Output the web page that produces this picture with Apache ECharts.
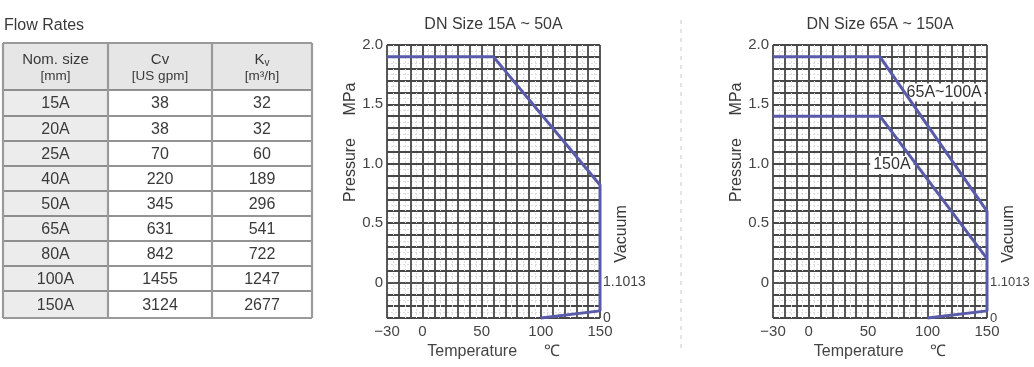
<!DOCTYPE html>
<html><head><meta charset="utf-8">
<script src="https://cdn.jsdelivr.net/npm/echarts/dist/echarts.min.js"></script>
<style>html,body{margin:0;padding:0;background:#fff}#c{width:1034px;height:367px}</style>
</head><body><div id="c"></div>
<script>
// ---------- data ----------
const tableTitle = 'Flow Rates';
const headers = [['Nom. size','[mm]'],['Cv','[US gpm]'],['Kv','[m³/h]']];
const sizes = ['15A','20A','25A','40A','50A','65A','80A','100A','150A'];
const cvValues = [38,38,70,220,345,631,842,1455,3124];
const kvValues = [32,32,60,189,296,541,722,1247,2677];

const chartTitles = ['DN Size 15A ~ 50A','DN Size 65A ~ 150A'];
const xTickLabels = {'-30':'−30','0':'0','50':'50','100':'100','150':'150'};
const yTickLabels = {'0':'0','5':'0.5','10':'1.0','15':'1.5','20':'2.0'};
const vacuumTickLabels = {'0':'1.1013','-3':'0'};

const temp15to50 = [-30,60,150,150,100];
const press15to50 = [1.9,1.9,0.82,-0.24,-0.3];
const temp65to100 = [-30,60,150,150,100];
const press65to100 = [1.9,1.9,0.6,-0.24,-0.3];
const temp150 = [-30,60,150];
const press150 = [1.4,1.4,0.2];
const seriesNames = ['65A~100A','150A'];

// ---------- build ----------
const FONT = "'Liberation Sans Narrow','Arial Narrow','Liberation Sans',Arial,sans-serif";
const TXT = '#3a3a3a';
const LINE = '#5a5aaa';
const zip = (a,b) => a.map((v,i)=>[v,b[i]]);

const graphics = [];
graphics.push({type:'text', x:4, y:26, style:{text:tableTitle, fontSize:16, fontFamily:FONT, fill:TXT, verticalAlign:'middle'}});

const colX = [3,108,212,312];
const rowY = [43,90,116,141,166,191,216,241,266,291,318];
for (let r=0;r<rowY.length-1;r++){
  for (let c=0;c<3;c++){
    const fill = r===0 ? '#e6e6e6' : (c===0 ? '#ececec' : '#ffffff');
    graphics.push({type:'rect', shape:{x:colX[c],y:rowY[r],width:colX[c+1]-colX[c],height:rowY[r+1]-rowY[r]}, style:{fill:fill}});
    const cx = (colX[c]+colX[c+1])/2, cy=(rowY[r]+rowY[r+1])/2;
    let text, rich;
    if (r===0){
      const h = headers[c];
      if (c===2) text = '{a|'+h[0].charAt(0)+'}{s|'+h[0].charAt(1)+'}\n{b|'+h[1]+'}';
      else text = '{a|'+h[0]+'}\n{b|'+h[1]+'}';
      rich = {a:{fontSize:15,lineHeight:17,fontFamily:FONT,fill:TXT,color:TXT},
              s:{fontSize:10,lineHeight:11,verticalAlign:'bottom',fontFamily:FONT,fill:TXT,color:TXT},
              b:{fontSize:13.5,lineHeight:16,fontFamily:FONT,fill:TXT,color:TXT}};
    } else {
      const i=r-1;
      text = String(c===0?sizes[i]:(c===1?cvValues[i]:kvValues[i]));
    }
    graphics.push({type:'text', x:cx, y:cy+1, style:{text:text, rich:rich, fontSize:16, fontFamily:FONT, fill:TXT, align:'center', verticalAlign:'middle'}});
  }
}
for (let r=0;r<rowY.length;r++){
  const outer = (r===0||r===rowY.length-1);
  graphics.push({type:'line', shape:{x1:colX[0],y1:rowY[r],x2:colX[3],y2:rowY[r]}, style:{stroke: outer?'#9a9a9a':'#6f6f6f', lineWidth: outer?2:1.5}});
}
for (let c=0;c<colX.length;c++){
  graphics.push({type:'line', shape:{x1:colX[c],y1:rowY[0],x2:colX[c],y2:rowY[rowY.length-1]}, style:{stroke:'#9a9a9a', lineWidth:2.2}});
}

// separator
graphics.push({type:'line', shape:{x1:681,y1:20,x2:681,y2:352}, style:{stroke:'#c8c8c8', lineWidth:1, lineDash:[4,5]}});

// chart titles & axis side labels
const gridDefs = [{left:387,width:213,vacFont:14},{left:773,width:214,vacFont:13}];
gridDefs.forEach((g,i)=>{
  graphics.push({type:'text', x:g.left+g.width/2, y:25, style:{text:chartTitles[i], fontSize:16, fontFamily:FONT, fill:TXT, align:'center', verticalAlign:'middle'}});
  graphics.push({type:'text', x:g.left-36, y:99, rotation:Math.PI/2, style:{text:'MPa', fontSize:16, fontFamily:FONT, fill:TXT, align:'center', verticalAlign:'middle'}});
  graphics.push({type:'text', x:g.left-36, y:170, rotation:Math.PI/2, style:{text:'Pressure', fontSize:16, fontFamily:FONT, fill:TXT, align:'center', verticalAlign:'middle'}});
  graphics.push({type:'text', x:g.left+g.width+22, y:234, rotation:Math.PI/2, style:{text:'Vacuum', fontSize:16, fontFamily:FONT, fill:TXT, align:'center', verticalAlign:'middle'}});
});

const xAxes = gridDefs.map((g,i)=>({
  type:'value', gridIndex:i, min:-30, max:150, interval:10,
  axisLine:{show:true,lineStyle:{color:'#555',width:1.5}}, axisTick:{show:false},
  axisLabel:{color:'#444', fontSize:15, fontFamily:FONT, margin:6,
    formatter:v=>{const k=String(Math.round(v)); return xTickLabels[k]!==undefined?xTickLabels[k]:'';}},
  splitLine:{show:true,lineStyle:{color:'#474747',width:1.8}},
  minorTick:{show:false,splitNumber:2},
  minorSplitLine:{show:true,lineStyle:{color:'#dcdcdc',width:1,type:[2,2]}},
  name:'Temperature      ℃', nameLocation:'middle', nameGap:24,
  nameTextStyle:{color:'#444', fontSize:16, fontFamily:FONT}
}));
const yAxes = [];
gridDefs.forEach((g,i)=>{
  yAxes.push({type:'value', gridIndex:i, min:-0.3, max:2.0, interval:0.1, position:'left',
    axisLine:{show:true,lineStyle:{color:'#555',width:1.5}}, axisTick:{show:false},
    axisLabel:{color:'#444', fontSize:15, fontFamily:FONT, margin:4,
      formatter:v=>{const k=String(Math.round(v*10)); return yTickLabels[k]!==undefined?yTickLabels[k]:'';}},
    splitLine:{show:true,lineStyle:{color:'#474747',width:1.8}},
    minorTick:{show:false,splitNumber:2},
    minorSplitLine:{show:true,lineStyle:{color:'#dcdcdc',width:1,type:[2,2]}}
  });
  yAxes.push({type:'value', gridIndex:i, min:-0.3, max:2.0, interval:0.1, position:'right',
    axisLine:{show:false}, axisTick:{show:false}, splitLine:{show:false},
    axisLabel:{color:'#444', fontSize:g.vacFont, fontFamily:FONT, margin:3,
      formatter:v=>{const k=String(Math.round(v*10)); return vacuumTickLabels[k]!==undefined?vacuumTickLabels[k]:'';}}
  });
});

const lineStyle = {color:LINE, width:3};
const seriesLabel = (t)=>({show:true, position:'inside', formatter:t, color:'#333', fontSize:16, fontFamily:FONT, backgroundColor:'#fff', padding:[1,3]});
const option = {
  animation:false,
  grid: gridDefs.map(g=>({left:g.left, width:g.width, top:45, height:273, outerBoundsMode:'none', containLabel:false})),
  xAxis: xAxes,
  yAxis: yAxes,
  graphic: graphics,
  series: [
    {type:'line', xAxisIndex:0, yAxisIndex:0, data:zip(temp15to50,press15to50), showSymbol:false, clip:false, lineStyle:lineStyle, z:5},
    {type:'line', name:seriesNames[0], xAxisIndex:1, yAxisIndex:2, data:zip(temp65to100,press65to100), showSymbol:false, clip:false, lineStyle:lineStyle, z:5,
      markPoint:{symbol:'rect', symbolSize:1, itemStyle:{color:'rgba(0,0,0,0)'}, label:seriesLabel(seriesNames[0]), data:[{coord:[114,1.6]}]}},
    {type:'line', name:seriesNames[1], xAxisIndex:1, yAxisIndex:2, data:zip(temp150,press150), showSymbol:false, clip:false, lineStyle:lineStyle, z:5,
      markPoint:{symbol:'rect', symbolSize:1, itemStyle:{color:'rgba(0,0,0,0)'}, label:seriesLabel(seriesNames[1]), data:[{coord:[70,0.99]}]}}
  ]
};
const chart = echarts.init(document.getElementById('c'), null, {renderer:'canvas'});
chart.setOption(option);
</script></body></html>
